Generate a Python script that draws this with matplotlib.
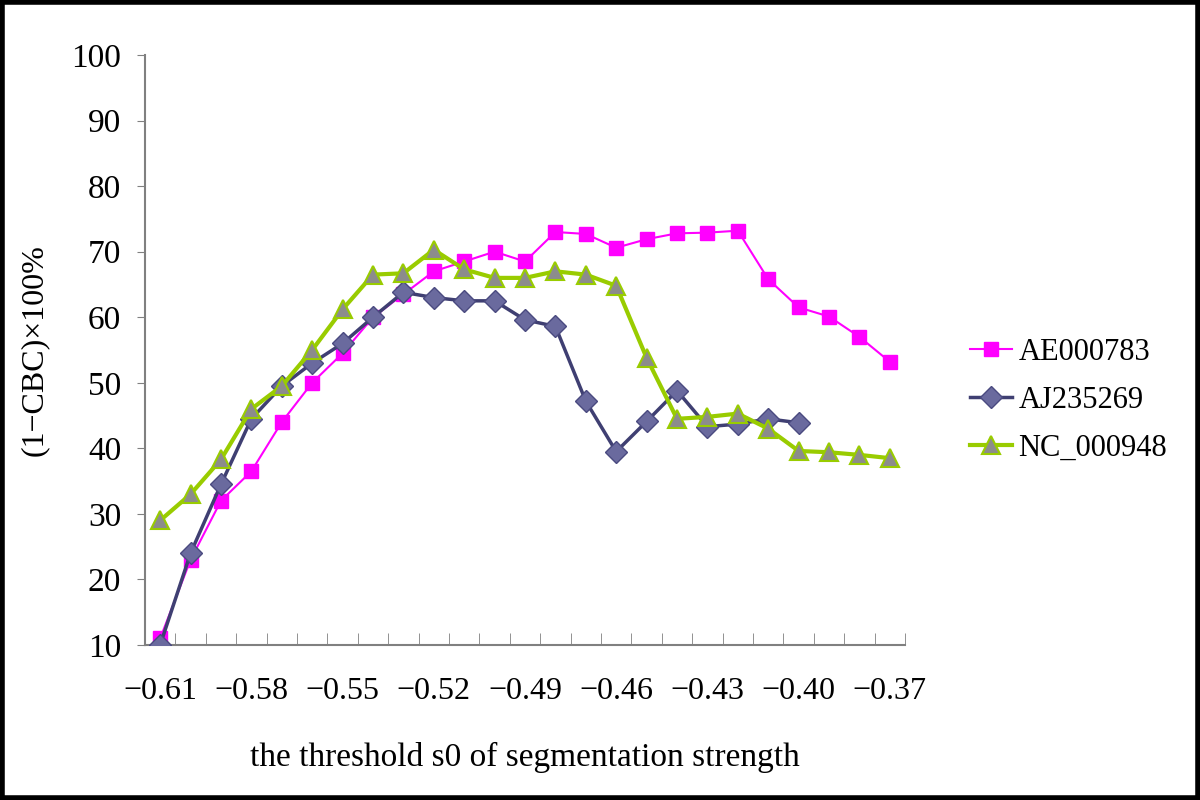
import matplotlib
matplotlib.use("Agg")
import matplotlib.pyplot as plt
from matplotlib.patches import Rectangle
import numpy as np

# seuil s0 (-0.61 .. -0.37 par pas de 0.01)
thresholds = [-0.61, -0.60, -0.59, -0.58, -0.57, -0.56, -0.55, -0.54, -0.53,
              -0.52, -0.51, -0.50, -0.49, -0.48, -0.47, -0.46, -0.45, -0.44,
              -0.43, -0.42, -0.41, -0.40, -0.39, -0.38, -0.37]

ae000783 = [11.0, 23.0, 32.0, 36.5, 44.0, 50.0, 54.5, 60.0, 63.5, 67.0, 68.5,
            70.0, 68.5, 73.0, 72.7, 70.6, 71.9, 72.8, 72.9, 73.2, 65.8, 61.5,
            60.1, 57.0, 53.2]
aj235269 = [10.0, 24.0, 34.5, 44.5, 49.5, 53.0, 56.0, 60.0, 63.8, 63.0, 62.5,
            62.5, 59.6, 58.6, 47.2, 39.5, 44.1, 48.8, 43.3, 43.7, 44.5, 43.9]
nc000948 = [29.0, 33.0, 38.3, 46.0, 49.5, 55.0, 61.2, 66.5, 66.7, 70.3, 67.3,
            66.0, 66.0, 67.0, 66.5, 64.8, 53.8, 44.5, 44.8, 45.3, 43.0, 39.6,
            39.4, 39.0, 38.5]

xtick_values = [-0.61, -0.58, -0.55, -0.52, -0.49, -0.46, -0.43, -0.40, -0.37]
ytick_values = [10, 20, 30, 40, 50, 60, 70, 80, 90, 100]

FONT = "Liberation Serif"

fig = plt.figure(figsize=(12, 8), dpi=100)
ax = fig.add_axes([0.1208, 0.19375, 0.6334, 0.7375])

ax.plot(thresholds, ae000783, color="#FF00FF", lw=1.5, marker="s", ms=10,
        mfc="#FF00FF", mec="#FF00FF", label="AE000783", zorder=3)
ax.plot(thresholds[:len(aj235269)], aj235269, color="#3F3F72", lw=2.5, marker="D",
        ms=11, mfc="#6A6A9E", mec="#4A4A80", label="AJ235269", zorder=4)
ax.plot(thresholds, nc000948, color="#99CC00", lw=3, marker="^", ms=13,
        mfc="#8C8C8C", mec="#99CC00", mew=1.5, label="NC_000948", zorder=5)

ax.set_xlim(-0.615, -0.365)
ax.set_ylim(10, 100)
ax.set_xticks(xtick_values)
ax.set_xticklabels([f"{v:.2f}".replace("-", "−") for v in xtick_values],
                   family=FONT, fontsize=23)
ax.set_xticks(np.arange(-0.615, -0.3649, 0.01), minor=True)
ax.tick_params(axis="x", which="major", length=0, pad=23)
ax.tick_params(axis="x", which="minor", direction="in", length=9, color="#808080")
ax.set_yticks(ytick_values)
ax.set_yticklabels([str(v) for v in ytick_values], family=FONT, fontsize=24)
ax.tick_params(axis="y", direction="out", length=6, color="#808080", pad=11)

for side in ("top", "right"):
    ax.spines[side].set_visible(False)
for side in ("left", "bottom"):
    ax.spines[side].set_color("#808080")
    ax.spines[side].set_linewidth(1.5)

ax.set_xlabel("the threshold s0 of segmentation strength",
              family=FONT, fontsize=24, labelpad=26)
ax.set_ylabel("(1−CBC)×100%", family=FONT, fontsize=23, labelpad=16)

fig.legend(loc="center left", bbox_to_anchor=(0.785, 0.5), frameon=False,
           prop={"family": FONT, "size": 22},
           handlelength=1.4, handletextpad=0.2, labelspacing=0.62)

fig.patches.append(Rectangle((0.002, 0.003), 0.996, 0.994, transform=fig.transFigure,
                             fill=False, edgecolor="black", linewidth=4))

fig.savefig("out.png", dpi=100)
